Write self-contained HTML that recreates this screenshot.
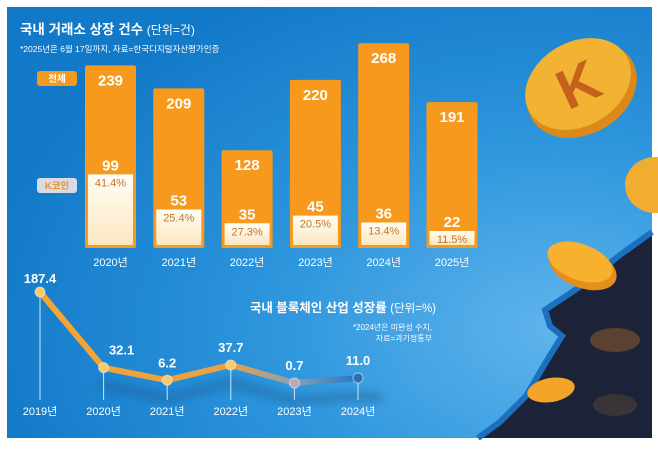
<!DOCTYPE html>
<html><head><meta charset="utf-8">
<style>
html,body{margin:0;padding:0;background:#fff;}
body{width:658px;height:444px;overflow:hidden;font-family:"Liberation Sans","Noto Sans CJK KR",sans-serif;}
svg text{font-family:"Liberation Sans","Noto Sans CJK KR",sans-serif;}
</style></head>
<body>
<svg width="658" height="444" viewBox="0 0 658 444" xmlns="http://www.w3.org/2000/svg">
<defs>
<radialGradient id="bg" cx="0.85" cy="0.75" r="0.9">
<stop offset="0" stop-color="#5fb4ec"/><stop offset="0.5" stop-color="#2c95dc"/><stop offset="1" stop-color="#1279c8"/>
</radialGradient>
<linearGradient id="wh" x1="0" y1="0" x2="0" y2="1"><stop offset="0" stop-color="#fffdf6"/><stop offset="1" stop-color="#fbe7bf"/></linearGradient>
<linearGradient id="ln" x1="0" y1="0" x2="1" y2="0"><stop offset="0" stop-color="#f7a531"/><stop offset="0.6" stop-color="#e9a048"/><stop offset="0.8" stop-color="#8aa0b8"/><stop offset="1" stop-color="#1f77c6"/></linearGradient>
<filter id="blur" x="-10%" y="-50%" width="120%" height="200%"><feGaussianBlur stdDeviation="4"/></filter>
</defs>
<rect x="7" y="7" width="645" height="431" fill="url(#bg)"/>
<polygon points="652,232 620,255 578,288 545,310 550,326 562,336 546,362 526,396 500,422 478,438 652,438" fill="#1c2237"/>
<polyline points="652,232 620,255 578,288 545,310 550,326 562,336 546,362 526,396 500,422 478,438" fill="none" stroke="#1d6fbf" stroke-width="6"/>
<g>
<ellipse cx="582" cy="90" rx="58" ry="44" transform="rotate(-30 582 90)" fill="#d98a1a"/>
<ellipse cx="578" cy="84" rx="56" ry="42" transform="rotate(-30 578 84)" fill="#f2b233"/>
<text x="578" y="104" text-anchor="middle" font-size="56" font-weight="bold" fill="#c4621c" transform="rotate(-25 578 84)">K</text>
<ellipse cx="655" cy="185" rx="30" ry="28" fill="#f0ad30"/>
<ellipse cx="583" cy="268" rx="35" ry="20" transform="rotate(20 583 268)" fill="#e48f1c"/>
<ellipse cx="580" cy="262" rx="34" ry="18" transform="rotate(20 580 262)" fill="#f8b12e"/>
<ellipse cx="615" cy="340" rx="25" ry="12" fill="#5a4130"/>
<ellipse cx="551" cy="390" rx="24" ry="12" transform="rotate(-10 551 390)" fill="#f4a428"/>
<ellipse cx="615" cy="405" rx="22" ry="11" fill="#3a3438"/>
</g>
<text x="20" y="34" font-size="13.5" font-weight="bold" fill="#fff">국내 거래소 상장 건수 <tspan font-weight="normal" font-size="12">(단위=건)</tspan></text>
<text x="20" y="52" font-size="8.5" fill="#fff">*2025년은 6월 17일까지, 자료=한국디지털자산평가인증</text>
<rect x="37" y="71" width="40" height="15" rx="3" fill="#f39a1f"/>
<text x="57" y="82" font-size="9.5" font-weight="bold" fill="#fff" text-anchor="middle">전체</text>
<rect x="37" y="178" width="40" height="15" rx="3" fill="#d8dbe3"/>
<text x="57" y="189" font-size="9.5" font-weight="bold" fill="#e8922a" text-anchor="middle">K코인</text>
<g id="bars"></g>
<g id="line"></g>
<text x="436" y="312" font-size="12.5" font-weight="bold" fill="#fff" text-anchor="end">국내 블록체인 산업 성장률 <tspan font-weight="normal" font-size="11.5">(단위=%)</tspan></text>
<text x="432" y="330" font-size="8" fill="#fff" text-anchor="end">*2024년은 미완성 수치,</text>
<text x="432" y="341" font-size="8" fill="#fff" text-anchor="end">자료=과기정통부</text>
</svg>
<script>
const barYears=["2020년","2021년","2022년","2023년","2024년","2025년"];
const totals=[239,209,128,220,268,191];
const kcoins=[99,53,35,45,36,22];
const kshare=["41.4%","25.4%","27.3%","20.5%","13.4%","11.5%"];
const lineYears=["2019년","2020년","2021년","2022년","2023년","2024년"];
const growth=[187.4,32.1,6.2,37.7,0.7,11.0];
const growthLabels=["187.4","32.1","6.2","37.7","0.7","11.0"];
const NS="http://www.w3.org/2000/svg";
function mk(t,a,p){const e=document.createElementNS(NS,t);for(const k in a)e.setAttribute(k,a[k]);p.appendChild(e);return e;}
const barX=i=>85+i*68.3, barW=51, base=248, barY=v=>base-v*0.764;
const bg=document.getElementById('bars');
totals.forEach((v,i)=>{
 const x=barX(i);
 const r=mk('rect',{x:x,y:barY(v),width:barW,height:base-barY(v),rx:2,fill:'#f7991c'},bg);
 
 
 const wy=Math.min(barY(kcoins[i])+2, base-17);
 const w=mk('rect',{x:x+3,y:wy,width:barW-6,height:base-wy-3,fill:'url(#wh)'},bg);
 
 
 const t=mk('text',{x:x+barW/2,y:barY(v)+20,'text-anchor':'middle','font-size':15,'font-weight':'bold',fill:'#fff'},bg);t.textContent=v;
 
 
 const k=mk('text',{x:x+barW/2,y:wy-4,'text-anchor':'middle','font-size':15,'font-weight':'bold',fill:'#fff'},bg);k.textContent=kcoins[i];
 
 
 const p=mk('text',{x:x+barW/2,y:wy+12,'text-anchor':'middle','font-size':11,fill:'#c0752a'},bg);p.textContent=kshare[i];
 
 
 const y=mk('text',{x:x+barW/2,y:266,'text-anchor':'middle','font-size':11,fill:'#fff'},bg);y.textContent=barYears[i];
 
 
});
const lx=i=>40+i*63.6, ly=v=>383.3-v*0.487;
const lg=document.getElementById('line');
const sh=mk('polyline',{points:growth.slice(1).map((v,i)=>lx(i+1)+','+(ly(v)+18)).join(' ')+' '+(lx(5)+20)+','+(ly(growth[5])+20),fill:'none',stroke:'#164f86','stroke-width':10,'stroke-opacity':0.35,'stroke-linecap':'round',filter:'url(#blur)'},lg);


growth.forEach((v,i)=>{const d=mk('line',{x1:lx(i),y1:ly(v),x2:lx(i),y2:400,stroke:'#cfe6f8','stroke-width':1},lg);
 
 });
const pl=mk('polyline',{points:growth.map((v,i)=>lx(i)+','+ly(v)).join(' '),fill:'none',stroke:'url(#ln)','stroke-width':6,'stroke-linejoin':'round'},lg);


growth.forEach((v,i)=>{
 const c=mk('circle',{cx:lx(i),cy:ly(v),r:5,fill:i==5?'#2d6fb5':(i==4?'#b9a8b8':'#fbc86a'),stroke:'#fff','stroke-opacity':0.5},lg);
 
 
 const t=mk('text',{x:lx(i)+(i==1?18:0),y:ly(v)-(i==0?9:13),'text-anchor':'middle','font-size':13,'font-weight':'bold',fill:'#fff'},lg);t.textContent=growthLabels[i];
 
 
 const y=mk('text',{x:lx(i),y:415,'text-anchor':'middle','font-size':11,fill:'#fff'},lg);y.textContent=lineYears[i];
 
 
});
</script>
</body></html>
